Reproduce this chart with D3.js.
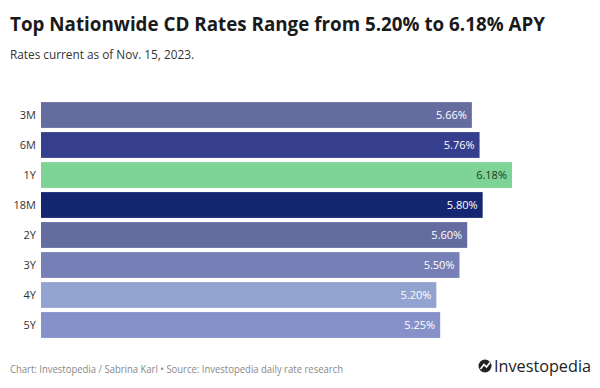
<!DOCTYPE html>
<html>
<head>
<meta charset="utf-8">
<script src="https://cdn.jsdelivr.net/npm/d3@7"></script>
<style>
  body { margin: 0; background: #fff; }
  text { font-family: "Source Sans Pro", "Open Sans", "Noto Sans", sans-serif; }
</style>
</head>
<body>
<div class="chart"></div>
<script>
var terms = ["3M", "6M", "1Y", "18M", "2Y", "3Y", "4Y", "5Y"];
var rates = [5.66, 5.76, 6.18, 5.80, 5.60, 5.50, 5.20, 5.25];
var barColors = ["#656ca0", "#353f8d", "#7ed396", "#142671", "#656ca0", "#7680b6", "#93a3cf", "#8791c9"];

var drawChart = function(){
	var w = 600, h = 388;

	var svg = d3.select('.chart').append('svg')
		.attr('width', w)
		.attr('height', h);

	svg.append('text')
		.attr('x', 10)
		.attr('y', 31)
		.attr('textLength', 535)
		.attr('lengthAdjust', 'spacingAndGlyphs')
		.style('font-size', '20px')
		.style('font-weight', 'bold')
		.style('fill', '#1a1a1a')
		.text('Top Nationwide CD Rates Range from 5.20% to 6.18% APY');

	svg.append('text')
		.attr('x', 10)
		.attr('y', 59)
		.attr('textLength', 184)
		.attr('lengthAdjust', 'spacingAndGlyphs')
		.style('font-size', '13px')
		.style('fill', '#333')
		.text('Rates current as of Nov. 15, 2023.');

	var x = d3.scaleLinear().domain([0.08, 6.18]).range([41, 512]);
	var y = d3.scaleBand().domain(terms).range([100, 340]).paddingInner(0.14).paddingOuter(0.07);

	var data = terms.map(function(t, i){ return {term: t, rate: rates[i], color: barColors[i]}; });

	var bars = svg.selectAll('.bar').data(data);

	bars.enter()
		.append('rect')
		.attr('class', 'bar')
		.attr('x', x.range()[0])
		.attr('y', function(d){ return y(d.term); })
		.attr('width', function(d){ return x(d.rate) - x.range()[0]; })
		.attr('height', y.bandwidth())
		.style('fill', function(d){ return d.color; });

	svg.selectAll('.val').data(data).enter()
		.append('text')
		.attr('x', function(d){ return x(d.rate) - 5; })
		.attr('y', function(d){ return y(d.term) + y.bandwidth() / 2 + 4; })
		.attr('text-anchor', 'end')
		.style('font-size', '11px')
		.style('fill', function(d){ return d.term == '1Y' ? '#1d3b28' : '#fff'; })
		.text(function(d){ return d.rate.toFixed(2) + '%'; });

	var axis = d3.axisLeft(y).tickSize(0).tickPadding(5);
	var g = svg.append('g')
		.attr('transform', 'translate(' + x.range()[0] + ',0)')
		.call(axis);
	g.select('.domain').remove();
	g.selectAll('text')
		.style('font-size', '11px')
		.style('fill', '#333')
		.style('font-family', '"Source Sans Pro", "Open Sans", "Noto Sans", sans-serif');

	svg.append('text')
		.attr('x', 10)
		.attr('y', 373)
		.attr('textLength', 333)
		.attr('lengthAdjust', 'spacingAndGlyphs')
		.style('font-size', '10.5px')
		.style('fill', '#888')
		.text('Chart: Investopedia / Sabrina Karl \u2022 Source: Investopedia daily rate research');

	// logo
	svg.append('circle')
		.attr('cx', 485)
		.attr('cy', 366)
		.attr('r', 6.5)
		.style('fill', '#222');
	svg.append('path')
		.attr('d', 'M480.5,369 L484,364.5 L486.5,367 L490,362.5')
		.style('fill', 'none')
		.style('stroke', '#fff')
		.style('stroke-width', 1.6);
	svg.append('text')
		.attr('x', 494)
		.attr('y', 372)
		.attr('textLength', 97)
		.attr('lengthAdjust', 'spacingAndGlyphs')
		.style('font-size', '17px')
		.style('fill', '#222')
		.text('Investopedia');
}()
</script>
</body>
</html>
